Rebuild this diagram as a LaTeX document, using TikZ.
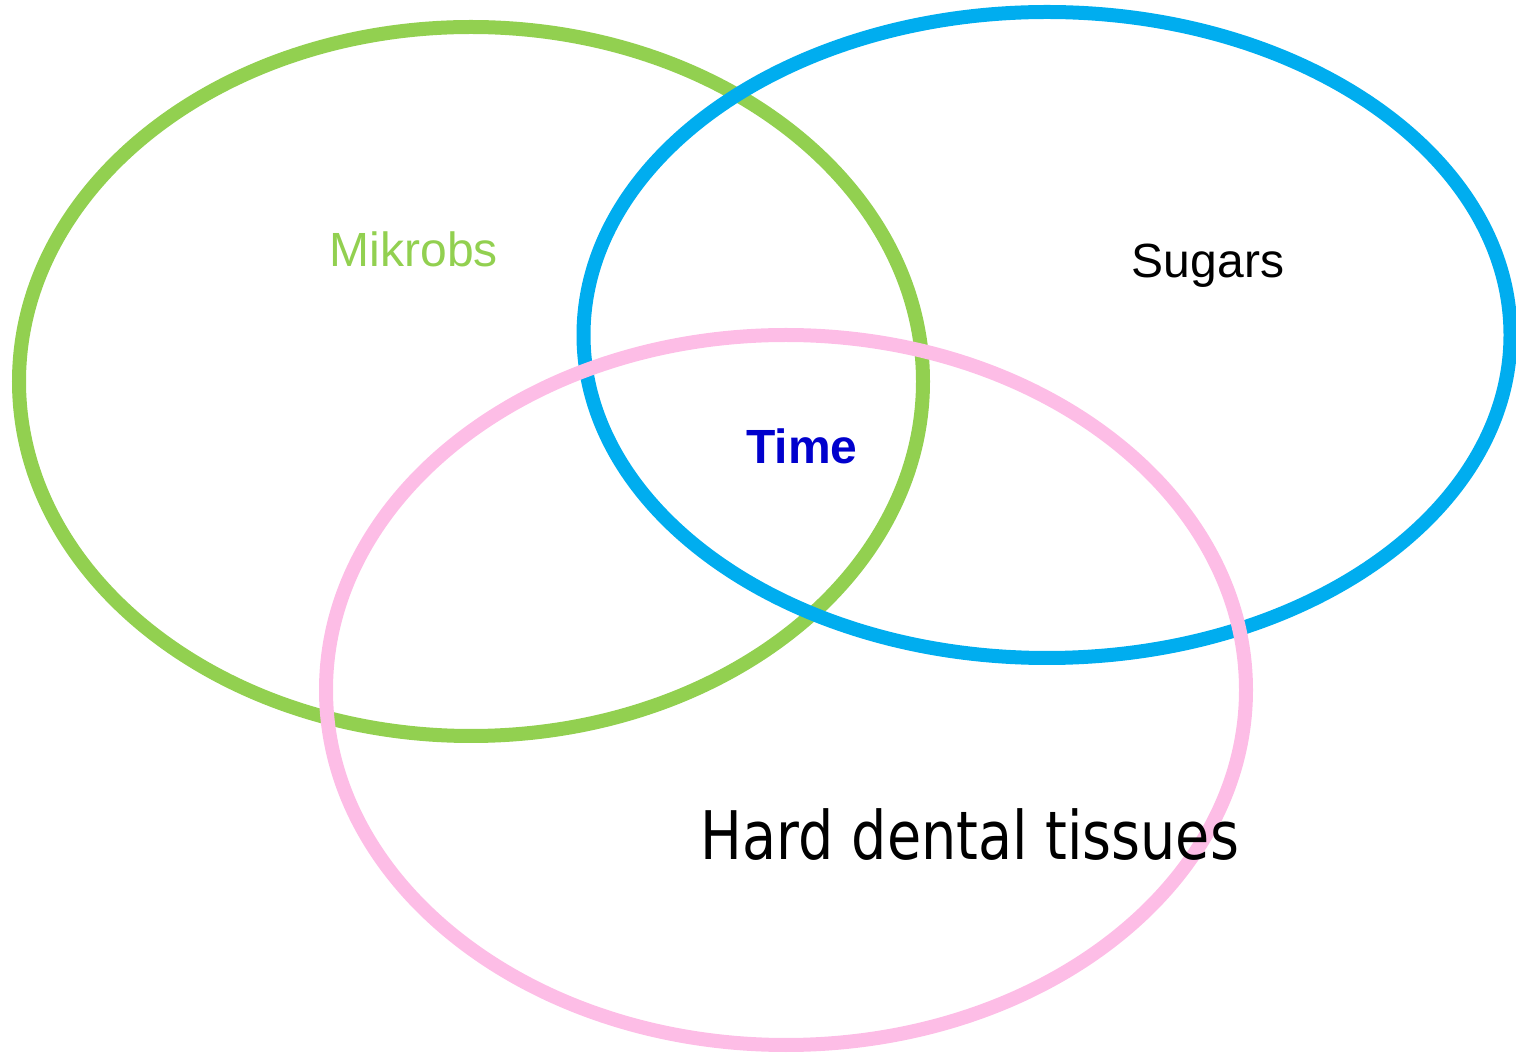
\documentclass[tikz,border=0pt]{standalone}
\usepackage{fontspec}
\setmainfont{Liberation Sans}
\newfontfamily\tahomalike{DejaVu Sans}
\usetikzlibrary{shapes.geometric}
\definecolor{setgreen}{HTML}{92D050}
\definecolor{setblue}{HTML}{00ADEF}
\definecolor{setpink}{HTML}{FDBDE6}
\definecolor{timeblue}{HTML}{0000CD}
\tikzset{
  setring/.style={ellipse, draw=#1, line width=14pt, inner sep=0pt},
  lbl/.style={inner sep=0pt, font=\fontsize{48}{52}\selectfont}
}
\begin{document}
\begin{tikzpicture}[x=1pt,y=1pt]
\useasboundingbox (0,0) rectangle (1516,1053);
\node[setring=setgreen, minimum width=904pt, minimum height=709pt] (mik) at (471,671.5) {};
\node[setring=setblue, minimum width=927pt, minimum height=646pt] (sug) at (1047,718) {};
\node[setring=setpink, minimum width=920pt, minimum height=710pt] (hard) at (786,363) {};
\node[lbl, text=setgreen] (tmik) at (414,804) {Mikrobs};
\node[lbl, text=black] (tsug) at (1208,787) {Sugars};
\node[lbl, text=timeblue, font=\fontsize{48}{52}\selectfont\bfseries] (ttime) at (802,607) {Time};
\node[inner sep=0pt] (thard) at (970,218) {\scalebox{0.83}[1]{\tahomalike\fontsize{67}{72}\selectfont Hard dental tissues}};
\end{tikzpicture}
\end{document}
